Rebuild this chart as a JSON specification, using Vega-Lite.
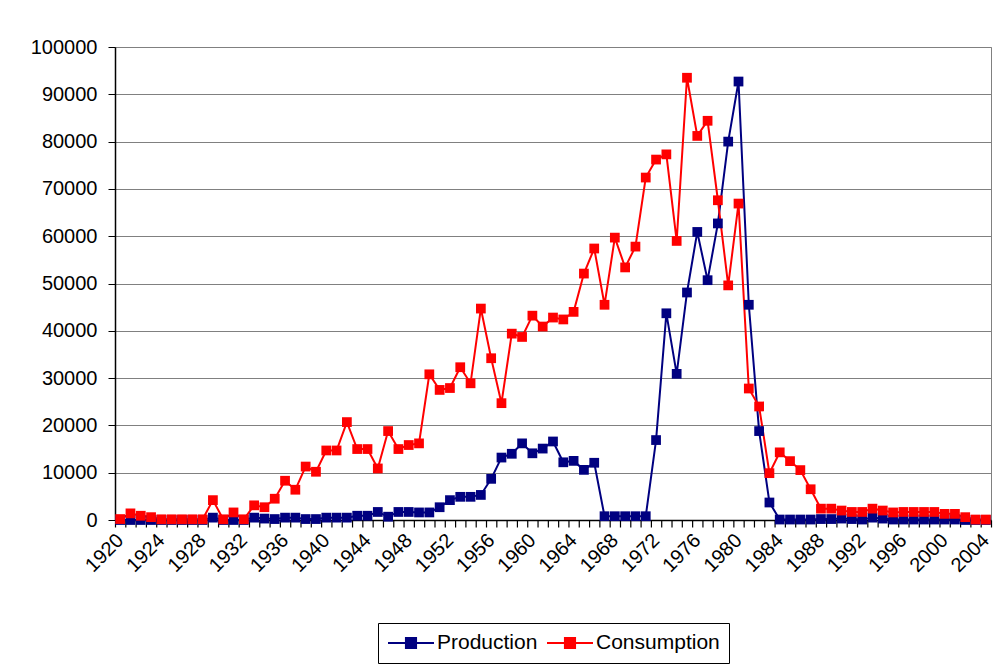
{
  "$schema": "https://vega.github.io/schema/vega-lite/v6.json",
  "width": 876,
  "height": 473,
  "autosize": {"type": "none"},
  "padding": {"left": 115, "top": 47, "right": 7, "bottom": 146},
  "background": "white",
  "config": {
    "font": "Liberation Sans",
    "view": {"stroke": "#808080", "strokeWidth": 1},
    "axis": {"labelFont": "Liberation Sans", "labelColor": "black", "labelFontSize": 20, "domainColor": "black", "tickColor": "black"},
    "legend": {"labelFont": "Liberation Sans"}
  },
  "data": {
    "values": [
      {"year": 1920, "Production": 0, "Consumption": 200},
      {"year": 1921, "Production": 0, "Consumption": 1400},
      {"year": 1922, "Production": 0, "Consumption": 900},
      {"year": 1923, "Production": 0, "Consumption": 600},
      {"year": 1924, "Production": 0, "Consumption": 150},
      {"year": 1925, "Production": 0, "Consumption": 150},
      {"year": 1926, "Production": 0, "Consumption": 150},
      {"year": 1927, "Production": 0, "Consumption": 150},
      {"year": 1928, "Production": 0, "Consumption": 150},
      {"year": 1929, "Production": 500, "Consumption": 4200},
      {"year": 1930, "Production": 0, "Consumption": 150},
      {"year": 1931, "Production": 0, "Consumption": 1600},
      {"year": 1932, "Production": 0, "Consumption": 150},
      {"year": 1933, "Production": 500, "Consumption": 3100},
      {"year": 1934, "Production": 300, "Consumption": 2700},
      {"year": 1935, "Production": 200, "Consumption": 4500},
      {"year": 1936, "Production": 500, "Consumption": 8300},
      {"year": 1937, "Production": 500, "Consumption": 6400},
      {"year": 1938, "Production": 200, "Consumption": 11300},
      {"year": 1939, "Production": 200, "Consumption": 10200},
      {"year": 1940, "Production": 500, "Consumption": 14700},
      {"year": 1941, "Production": 500, "Consumption": 14700},
      {"year": 1942, "Production": 500, "Consumption": 20700},
      {"year": 1943, "Production": 900, "Consumption": 15000},
      {"year": 1944, "Production": 900, "Consumption": 15000},
      {"year": 1945, "Production": 1700, "Consumption": 10900},
      {"year": 1946, "Production": 700, "Consumption": 18800},
      {"year": 1947, "Production": 1700, "Consumption": 15000},
      {"year": 1948, "Production": 1700, "Consumption": 15850},
      {"year": 1949, "Production": 1600, "Consumption": 16200},
      {"year": 1950, "Production": 1600, "Consumption": 30800},
      {"year": 1951, "Production": 2700, "Consumption": 27500},
      {"year": 1952, "Production": 4200, "Consumption": 27900},
      {"year": 1953, "Production": 4900, "Consumption": 32300},
      {"year": 1954, "Production": 4900, "Consumption": 28900},
      {"year": 1955, "Production": 5300, "Consumption": 44700},
      {"year": 1956, "Production": 8700, "Consumption": 34200},
      {"year": 1957, "Production": 13200, "Consumption": 24700},
      {"year": 1958, "Production": 14000, "Consumption": 39400},
      {"year": 1959, "Production": 16200, "Consumption": 38700},
      {"year": 1960, "Production": 14100, "Consumption": 43200},
      {"year": 1961, "Production": 15100, "Consumption": 40900},
      {"year": 1962, "Production": 16600, "Consumption": 42800},
      {"year": 1963, "Production": 12200, "Consumption": 42400},
      {"year": 1964, "Production": 12500, "Consumption": 44000},
      {"year": 1965, "Production": 10600, "Consumption": 52100},
      {"year": 1966, "Production": 12100, "Consumption": 57400},
      {"year": 1967, "Production": 800, "Consumption": 45500},
      {"year": 1968, "Production": 800, "Consumption": 59700},
      {"year": 1969, "Production": 800, "Consumption": 53400},
      {"year": 1970, "Production": 800, "Consumption": 57800},
      {"year": 1971, "Production": 800, "Consumption": 72400},
      {"year": 1972, "Production": 16900, "Consumption": 76200},
      {"year": 1973, "Production": 43700, "Consumption": 77300},
      {"year": 1974, "Production": 30900, "Consumption": 59000},
      {"year": 1975, "Production": 48100, "Consumption": 93500},
      {"year": 1976, "Production": 60900, "Consumption": 81200},
      {"year": 1977, "Production": 50700, "Consumption": 84400},
      {"year": 1978, "Production": 62700, "Consumption": 67600},
      {"year": 1979, "Production": 80000, "Consumption": 49600},
      {"year": 1980, "Production": 92700, "Consumption": 66900},
      {"year": 1981, "Production": 45500, "Consumption": 27800},
      {"year": 1982, "Production": 18800, "Consumption": 24000},
      {"year": 1983, "Production": 3700, "Consumption": 9900},
      {"year": 1984, "Production": 100, "Consumption": 14300},
      {"year": 1985, "Production": 100, "Consumption": 12450},
      {"year": 1986, "Production": 100, "Consumption": 10550},
      {"year": 1987, "Production": 100, "Consumption": 6500},
      {"year": 1988, "Production": 200, "Consumption": 2400},
      {"year": 1989, "Production": 200, "Consumption": 2400},
      {"year": 1990, "Production": 300, "Consumption": 2000},
      {"year": 1991, "Production": 200, "Consumption": 1700},
      {"year": 1992, "Production": 100, "Consumption": 1700},
      {"year": 1993, "Production": 500, "Consumption": 2400},
      {"year": 1994, "Production": 300, "Consumption": 2000},
      {"year": 1995, "Production": 100, "Consumption": 1600},
      {"year": 1996, "Production": 100, "Consumption": 1700},
      {"year": 1997, "Production": 100, "Consumption": 1700},
      {"year": 1998, "Production": 100, "Consumption": 1700},
      {"year": 1999, "Production": 100, "Consumption": 1700},
      {"year": 2000, "Production": 100, "Consumption": 1300},
      {"year": 2001, "Production": 100, "Consumption": 1300},
      {"year": 2002, "Production": 0, "Consumption": 600},
      {"year": 2003, "Production": 0, "Consumption": 100},
      {"year": 2004, "Production": 0, "Consumption": 100}
    ]
  },
  "transform": [{"fold": ["Production", "Consumption"], "as": ["series", "value"]}],
  "mark": {"type": "line", "strokeWidth": 2, "point": {"shape": "square", "size": 95, "filled": true, "opacity": 1}},
  "encoding": {
    "x": {
      "field": "year", "type": "quantitative",
      "scale": {"domain": [1919.5, 2004.5], "nice": false, "zero": false},
      "axis": {
        "title": null, "grid": false,
        "values": [1919.5,1920.5,1921.5,1922.5,1923.5,1924.5,1925.5,1926.5,1927.5,1928.5,1929.5,1930.5,1931.5,1932.5,1933.5,1934.5,1935.5,1936.5,1937.5,1938.5,1939.5,1940.5,1941.5,1942.5,1943.5,1944.5,1945.5,1946.5,1947.5,1948.5,1949.5,1950.5,1951.5,1952.5,1953.5,1954.5,1955.5,1956.5,1957.5,1958.5,1959.5,1960.5,1961.5,1962.5,1963.5,1964.5,1965.5,1966.5,1967.5,1968.5,1969.5,1970.5,1971.5,1972.5,1973.5,1974.5,1975.5,1976.5,1977.5,1978.5,1979.5,1980.5,1981.5,1982.5,1983.5,1984.5,1985.5,1986.5,1987.5,1988.5,1989.5,1990.5,1991.5,1992.5,1993.5,1994.5,1995.5,1996.5,1997.5,1998.5,1999.5,2000.5,2001.5,2002.5,2003.5,2004.5],
        "labelExpr": "(datum.value + 0.5) % 4 === 0 ? toString(datum.value + 0.5) : ''",
        "labelOffset": 5,
        "labelAngle": -45, "labelAlign": "right", "labelBaseline": "middle",
        "labelPadding": 10, "tickSize": 7, "tickWidth": 1.2, "ticks": true, "tickColor": "#000000", "tickOpacity": 1, "tickRound": false, "domainWidth": 1.5,
        "labelOverlap": false, "labelBound": false, "labelFlush": false
      }
    },
    "y": {
      "field": "value", "type": "quantitative",
      "scale": {"domain": [0, 100000], "nice": false},
      "axis": {
        "title": null,
        "values": [0,10000,20000,30000,40000,50000,60000,70000,80000,90000,100000],
        "format": "d", "gridColor": "#808080", "gridWidth": 1,
        "tickSize": 7, "labelPadding": 11, "domainWidth": 1.5
      }
    },
    "color": {
      "field": "series", "type": "nominal",
      "scale": {"domain": ["Production", "Consumption"], "range": ["#000080", "#FF0000"]},
      "legend": {
        "title": null, "orient": "none", "legendX": 263, "legendY": 576, "direction": "horizontal",
        "labelFontSize": 21, "labelColor": "black", "labelLimit": 300,
        "symbolType": "M-1,0H1M-0.22,-0.22H0.22V0.22H-0.22Z",
        "symbolSize": 2116, "symbolStrokeWidth": 2, "clipHeight": 22,
        "strokeColor": "black", "fillColor": "white", "padding": 9,
        "columnPadding": 8, "labelOffset": 2,
        "encode": {"symbols": {"update": {"fill": {"scale": "color", "field": "value"}, "stroke": {"scale": "color", "field": "value"}, "fillOpacity": {"value": 1}}}}
      }
    }
  }
}
